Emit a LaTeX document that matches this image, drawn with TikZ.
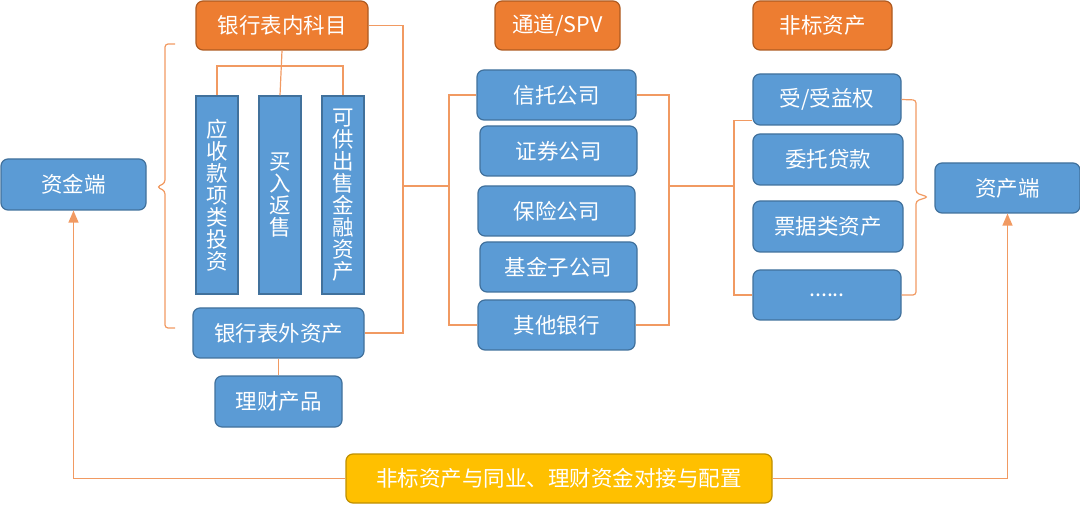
\documentclass[tikz,border=0pt]{standalone}
\usepackage{fontspec}
\setmainfont{Noto Sans CJK SC}
\usetikzlibrary{arrows.meta}
\definecolor{bfill}{HTML}{5B9BD5}
\definecolor{bdraw}{HTML}{41719C}
\definecolor{ofill}{HTML}{ED7D31}
\definecolor{odraw}{HTML}{AE5A21}
\definecolor{yfill}{HTML}{FFC000}
\definecolor{ydraw}{HTML}{BF9000}
\definecolor{lncol}{HTML}{F19A62}
\tikzset{
  box/.style={rounded corners=7pt, line width=1.2pt, text=white, inner sep=0pt,
    font=\fontsize{21.5}{22}\selectfont, align=center},
  bluebox/.style={box, fill=bfill, draw=bdraw},
  orangebox/.style={box, fill=ofill, draw=odraw},
  yellowbox/.style={box, fill=yfill, draw=ydraw},
  vbox/.style={bluebox, rounded corners=0pt, minimum width=42pt, minimum height=198pt},
  ln/.style={draw=lncol, line width=1.2pt},
  arr/.style={ln, -{Triangle[length=12pt,width=10pt]}}
}
\begin{document}
\begin{tikzpicture}[x=1pt,y=-1pt]
\useasboundingbox (0,0) rectangle (1080,505);
% top headers
\node[orangebox, minimum width=172pt, minimum height=49pt] (bn) at (282,25.5) {银行表内科目};
\node[orangebox, minimum width=125pt, minimum height=49pt] (spv) at (557.5,25.5) {通道/SPV};
\node[orangebox, minimum width=139pt, minimum height=49pt] (fb) at (822.5,25.5) {非标资产};
% ends
\node[bluebox, minimum width=145pt, minimum height=51pt] (zj) at (73.5,184.5) {资金端};
\node[bluebox, minimum width=145pt, minimum height=50pt] (zc) at (1007.5,188) {资产端};
% bank vertical boxes
\node[vbox] (v1) at (217,195) {应\\收\\款\\项\\类\\投\\资};
\node[vbox] (v2) at (280,195) {买\\入\\返\\售};
\node[vbox] (v3) at (343,195) {可\\供\\出\\售\\金\\融\\资\\产};
\node[bluebox, minimum width=171pt, minimum height=50pt] (bw) at (278.5,333) {银行表外资产};
\node[bluebox, minimum width=127pt, minimum height=51pt] (lc) at (278.5,401.5) {理财产品};
% SPV
\node[bluebox, minimum width=159pt, minimum height=50pt] (x1) at (556.5,95) {信托公司};
\node[bluebox, minimum width=157pt, minimum height=50pt] (x2) at (558.5,151) {证券公司};
\node[bluebox, minimum width=157pt, minimum height=50pt] (x3) at (556.5,211) {保险公司};
\node[bluebox, minimum width=157pt, minimum height=50pt] (x4) at (558.5,267) {基金子公司};
\node[bluebox, minimum width=157pt, minimum height=50pt] (x5) at (556.5,325) {其他银行};
% non-standard assets
\node[bluebox, minimum width=148pt, minimum height=51pt] (f1) at (827,99.5) {受/受益权};
\node[bluebox, minimum width=150pt, minimum height=51pt] (f2) at (828,159.5) {委托贷款};
\node[bluebox, minimum width=150pt, minimum height=51pt] (f3) at (828,226.5) {票据类资产};
\node[bluebox, minimum width=148pt, minimum height=50pt] (f4) at (827,295) {......};
% bottom
\node[yellowbox, minimum width=426pt, minimum height=49pt] (yl) at (559,478.5) {非标资产与同业、理财资金对接与配置};
% coordinates
\coordinate (j) at (281,66);
\coordinate (m1) at (403,186);
\coordinate (m2) at (449,186);
\coordinate (m3) at (669,186);
\coordinate (m4) at (734,186);
\coordinate (b1) at (175,44);
\coordinate (b2) at (175,328);
\coordinate (bt) at (157,187);
\coordinate (r1) at (916,100);
\coordinate (rt) at (928,197);
% tree under bank on-balance
\draw[ln] (bn.south) -- (v2.north);
\draw[ln] (v1.north) |- (j) -| (v3.north);
\draw[ln] (bw.south) -- (lc.north);
% left brace
\draw[ln, rounded corners=3pt] (b1) -- (165,44) -- (165,183) -- (bt) -- (165,191) -- (165,328) -- (b2);
% right bank bracket
\draw[ln] (bn.east) -| (m1) |- (bw.east);
\draw[ln] (m1) -- (m2);
\draw[ln] (x1.west) -| (m2) |- (x5.west);
\draw[ln] (x1.east) -| (m3) |- (x5.east);
\draw[ln] (m3) -- (m4);
\draw[ln] ([yshift=-21pt]f1.west) -| (m4) |- (f4.west);
% right brace
\draw[ln, rounded corners=3pt] (f1.east) -- (r1) -- (916,193) -- (rt) -- (916,201) -- (916,295) -- (f4.east);
% feedback arrows
\draw[arr] (yl.west) -| (zj.south);
\draw[arr] (yl.east) -| (zc.south);
\end{tikzpicture}
\end{document}
